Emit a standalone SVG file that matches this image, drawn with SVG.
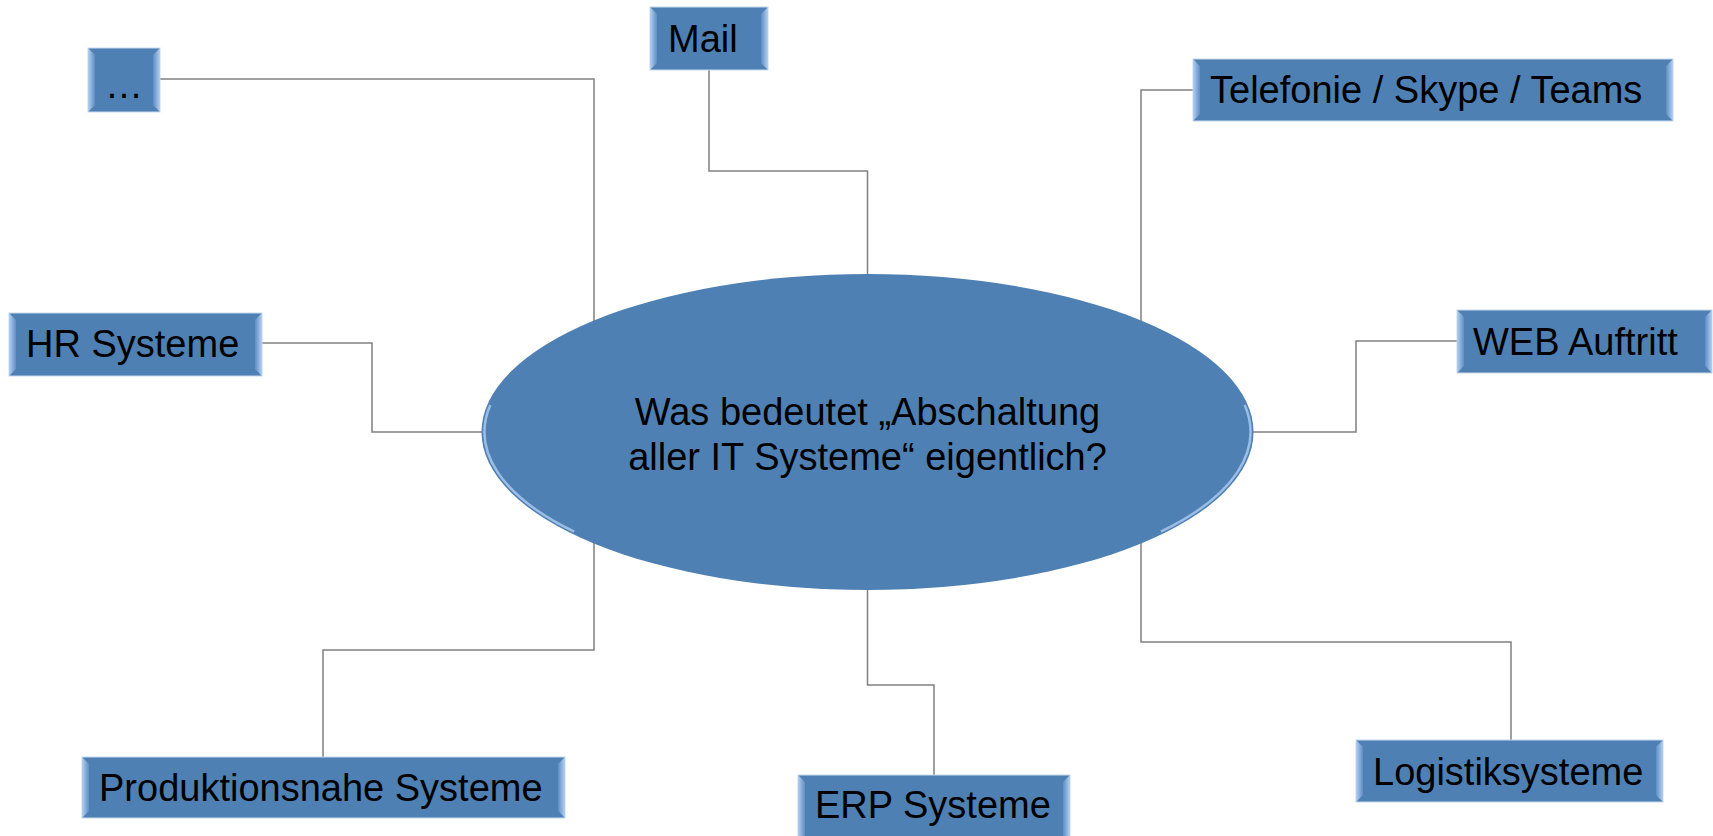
<svg xmlns="http://www.w3.org/2000/svg" width="1713" height="836" viewBox="0 0 1713 836">
<defs>
<linearGradient id="bl" x1="0" y1="0" x2="1" y2="0"><stop offset="0" stop-color="#B4D0F0"/><stop offset="1" stop-color="#5E8EC4"/></linearGradient>
<linearGradient id="br" x1="1" y1="0" x2="0" y2="0"><stop offset="0" stop-color="#B4D0F0"/><stop offset="1" stop-color="#5E8EC4"/></linearGradient>
<style>
.bx{fill:#4F80B3;stroke:#C6D8EE;stroke-width:1}
.bl{fill:url(#bl)}
.br{fill:url(#br)}
.t{font-family:"Liberation Sans",Arial,sans-serif;font-size:38px;fill:#000}
.c{fill:none;stroke:#808080;stroke-width:1.5}
.rim{fill:none;stroke:#A8C8EE;stroke-width:2.5;opacity:0.85}
</style>
</defs>
<rect width="1713" height="836" fill="#fff"/>
<g id="connectors">
<polyline class="c" points="160,79 594,79 594,321"/>
<polyline class="c" points="709,70 709,171 867.5,171 867.5,275"/>
<polyline class="c" points="1193,90 1141,90 1141,321"/>
<polyline class="c" points="1457,341 1356,341 1356,432 1253,432"/>
<polyline class="c" points="262,343 372,343 372,432 482,432"/>
<polyline class="c" points="594,543 594,650 323,650 323,757"/>
<polyline class="c" points="867.5,589 867.5,685 934,685 934,775"/>
<polyline class="c" points="1141,543 1141,642 1511,642 1511,740"/>
</g>
<g id="center">
<ellipse cx="867.5" cy="432" rx="386" ry="158" fill="#4F80B3"/>
<path class="rim" d="M1244.7,405.1 A383,155 0 0 1 1160.9,531.6"/>
<path class="rim" d="M574.1,531.6 A383,155 0 0 1 490.3,405.1"/>
<text class="t" x="867.5" y="425" text-anchor="middle">Was bedeutet „Abschaltung</text>
<text class="t" x="867.5" y="470" text-anchor="middle">aller IT Systeme“ eigentlich?</text>
</g>
<g id="n-dots">
<rect class="bx" x="88" y="48" width="72" height="64"/>
<polygon class="bl" points="88,48 95,55 95,105 88,112"/>
<polygon class="br" points="160,48 153,55 153,105 160,112"/>
<text class="t" x="124" y="98" text-anchor="middle">…</text>
</g>
<g id="n-mail">
<rect class="bx" x="650" y="7" width="118" height="63"/>
<polygon class="bl" points="650,7 657,14 657,63 650,70"/>
<polygon class="br" points="768,7 761,14 761,63 768,70"/>
<text class="t" x="668" y="52">Mail</text>
</g>
<g id="n-tel">
<rect class="bx" x="1193" y="59" width="480" height="62"/>
<polygon class="bl" points="1193,59 1200,66 1200,114 1193,121"/>
<polygon class="br" points="1673,59 1666,66 1666,114 1673,121"/>
<text class="t" x="1210" y="103">Telefonie / Skype / Teams</text>
</g>
<g id="n-web">
<rect class="bx" x="1457" y="310" width="255" height="63"/>
<polygon class="bl" points="1457,310 1464,317 1464,366 1457,373"/>
<polygon class="br" points="1712,310 1705,317 1705,366 1712,373"/>
<text class="t" x="1473" y="355">WEB Auftritt</text>
</g>
<g id="n-hr">
<rect class="bx" x="9" y="313" width="253" height="63"/>
<polygon class="bl" points="9,313 16,320 16,369 9,376"/>
<polygon class="br" points="262,313 255,320 255,369 262,376"/>
<text class="t" x="26" y="357">HR Systeme</text>
</g>
<g id="n-prod">
<rect class="bx" x="82" y="757" width="483" height="61"/>
<polygon class="bl" points="82,757 89,764 89,811 82,818"/>
<polygon class="br" points="565,757 558,764 558,811 565,818"/>
<text class="t" x="99" y="801">Produktionsnahe Systeme</text>
</g>
<g id="n-erp">
<rect class="bx" x="798" y="775" width="272" height="62"/>
<polygon class="bl" points="798,775 805,782 805,837 798,837"/>
<polygon class="br" points="1070,775 1063,782 1063,837 1070,837"/>
<text class="t" x="815" y="818">ERP Systeme</text>
</g>
<g id="n-log">
<rect class="bx" x="1356" y="740" width="307" height="62"/>
<polygon class="bl" points="1356,740 1363,747 1363,795 1356,802"/>
<polygon class="br" points="1663,740 1656,747 1656,795 1663,802"/>
<text class="t" x="1373" y="785">Logistiksysteme</text>
</g>
</svg>
